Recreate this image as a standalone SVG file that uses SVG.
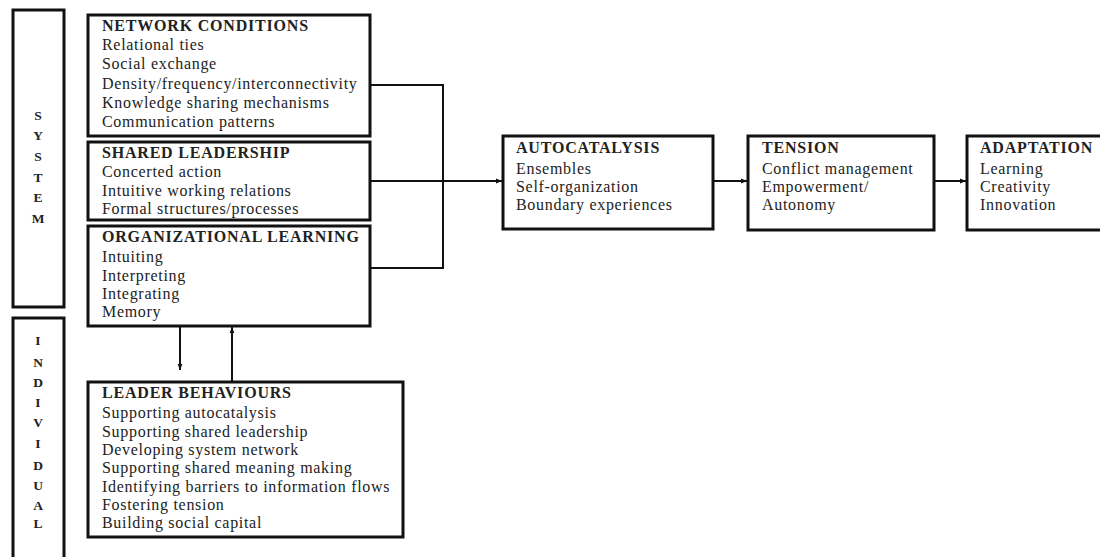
<svg xmlns="http://www.w3.org/2000/svg" width="1100" height="557" viewBox="0 0 1100 557">
<style>
.box{fill:none;stroke:#111;stroke-width:3}
.t{font-family:"Liberation Serif","Times New Roman",serif;font-size:16px;letter-spacing:0.7px;fill:#222}
.h{font-family:"Liberation Serif","Times New Roman",serif;font-size:16px;letter-spacing:0.8px;font-weight:bold;fill:#222}
.v{font-family:"Liberation Serif","Times New Roman",serif;font-size:13.5px;font-weight:bold;fill:#222;text-anchor:middle}
.c{fill:none;stroke:#111;stroke-width:2}
</style>
<defs>
<marker id="ah" viewBox="0 0 10 10" refX="10" refY="5" markerWidth="6" markerHeight="6" orient="auto" markerUnits="userSpaceOnUse">
<path d="M0,1 L10,5 L0,9 z" fill="#111"/>
</marker>
</defs>
<rect width="1100" height="557" fill="#fff"/>
<g id="system">
<rect class="box" x="13" y="10" width="51" height="297"/>
<text class="v" x="38" y="120">S</text>
<text class="v" x="38" y="140">Y</text>
<text class="v" x="38" y="161">S</text>
<text class="v" x="38" y="182">T</text>
<text class="v" x="38" y="202">E</text>
<text class="v" x="38" y="223">M</text>
</g>
<g id="individual">
<rect class="box" x="13" y="318" width="51" height="250"/>
<text class="v" x="38" y="345">I</text>
<text class="v" x="38" y="367">N</text>
<text class="v" x="38" y="387">D</text>
<text class="v" x="38" y="407">I</text>
<text class="v" x="38" y="427">V</text>
<text class="v" x="38" y="448">I</text>
<text class="v" x="38" y="470">D</text>
<text class="v" x="38" y="490">U</text>
<text class="v" x="38" y="510">A</text>
<text class="v" x="38" y="528">L</text>
</g>
<g id="network-conditions">
<rect class="box" x="88" y="15" width="282" height="121"/>
<text class="h" x="102" y="31">NETWORK CONDITIONS</text>
<text class="t" x="102" y="50">Relational ties</text>
<text class="t" x="102" y="69">Social exchange</text>
<text class="t" x="102" y="89">Density/frequency/interconnectivity</text>
<text class="t" x="102" y="108">Knowledge sharing mechanisms</text>
<text class="t" x="102" y="127">Communication patterns</text>
</g>
<g id="shared-leadership">
<rect class="box" x="88" y="142" width="282" height="78"/>
<text class="h" x="102" y="158">SHARED LEADERSHIP</text>
<text class="t" x="102" y="177">Concerted action</text>
<text class="t" x="102" y="196">Intuitive working relations</text>
<text class="t" x="102" y="214">Formal structures/processes</text>
</g>
<g id="organizational-learning">
<rect class="box" x="88" y="226" width="282" height="100"/>
<text class="h" x="102" y="242">ORGANIZATIONAL LEARNING</text>
<text class="t" x="102" y="262">Intuiting</text>
<text class="t" x="102" y="281">Interpreting</text>
<text class="t" x="102" y="299">Integrating</text>
<text class="t" x="102" y="317">Memory</text>
</g>
<g id="leader-behaviours">
<rect class="box" x="88" y="382" width="315" height="155"/>
<text class="h" x="102" y="398">LEADER BEHAVIOURS</text>
<text class="t" x="102" y="418">Supporting autocatalysis</text>
<text class="t" x="102" y="437">Supporting shared leadership</text>
<text class="t" x="102" y="455">Developing system network</text>
<text class="t" x="102" y="473">Supporting shared meaning making</text>
<text class="t" x="102" y="492">Identifying barriers to information flows</text>
<text class="t" x="102" y="510">Fostering tension</text>
<text class="t" x="102" y="528">Building social capital</text>
</g>
<g id="autocatalysis">
<rect class="box" x="503" y="136" width="210" height="93"/>
<text class="h" x="516" y="153">AUTOCATALYSIS</text>
<text class="t" x="516" y="174">Ensembles</text>
<text class="t" x="516" y="192">Self-organization</text>
<text class="t" x="516" y="210">Boundary experiences</text>
</g>
<g id="tension">
<rect class="box" x="748" y="136" width="186" height="94"/>
<text class="h" x="762" y="153">TENSION</text>
<text class="t" x="762" y="174">Conflict management</text>
<text class="t" x="762" y="192">Empowerment/</text>
<text class="t" x="762" y="210">Autonomy</text>
</g>
<g id="adaptation">
<rect class="box" x="967" y="136" width="150" height="94"/>
<text class="h" x="980" y="153">ADAPTATION</text>
<text class="t" x="980" y="174">Learning</text>
<text class="t" x="980" y="192">Creativity</text>
<text class="t" x="980" y="210">Innovation</text>
</g>
<g id="connectors">
<polyline class="c" points="370,85 443,85 443,268 370,268"/>
<line class="c" x1="370" y1="181" x2="502" y2="181" marker-end="url(#ah)"/>
<line class="c" x1="713" y1="181" x2="747" y2="181" marker-end="url(#ah)"/>
<line class="c" x1="934" y1="181" x2="966" y2="181" marker-end="url(#ah)"/>
<line class="c" x1="180" y1="327" x2="180" y2="370" marker-end="url(#ah)"/>
<line class="c" x1="232" y1="382" x2="232" y2="327" marker-end="url(#ah)"/>
</g>
</svg>
